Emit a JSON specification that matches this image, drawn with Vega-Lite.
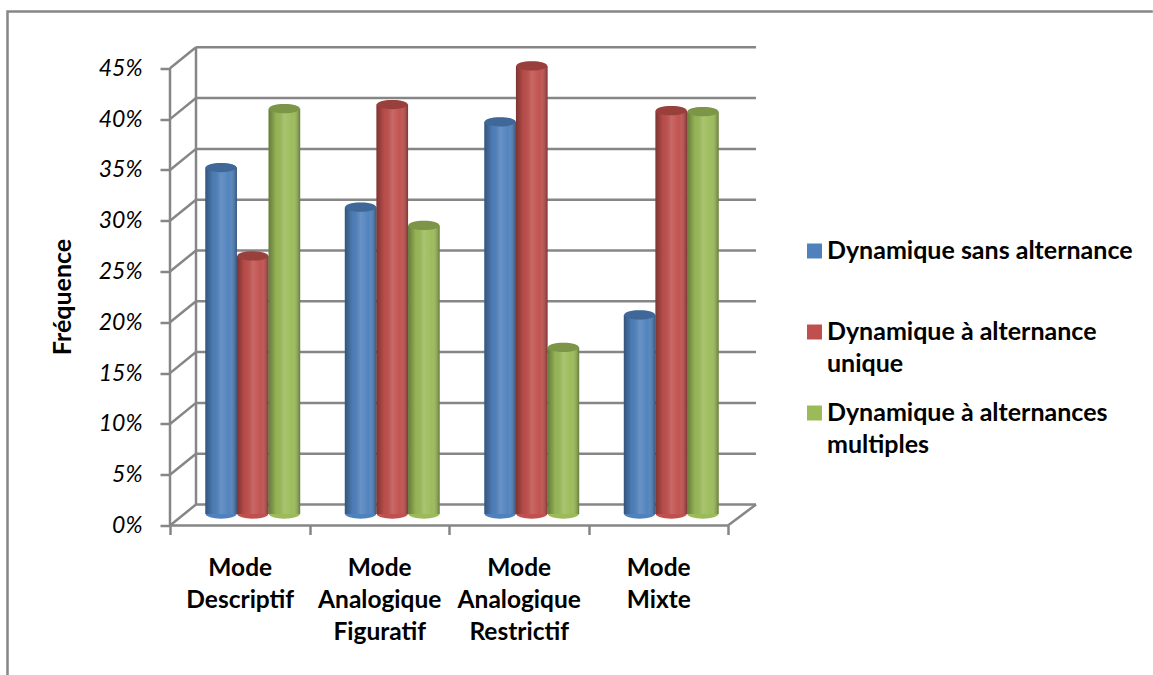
{
"$schema":"https://vega.github.io/schema/vega-lite/v6.json",
"width":558,"height":478,
"autosize":"none",
"padding":{"left":170,"top":47.5,"right":425,"bottom":150},
"background":"white",
"config":{"view":{"stroke":null},"font":"Lato"},
"datasets":{
"bars":[
{"mode":"Mode Descriptif","serie":"Dynamique sans alternance","freq":34.1},
{"mode":"Mode Descriptif","serie":"Dynamique à alternance unique","freq":25.4},
{"mode":"Mode Descriptif","serie":"Dynamique à alternances multiples","freq":39.9},
{"mode":"Mode Analogique Figuratif","serie":"Dynamique sans alternance","freq":30.2},
{"mode":"Mode Analogique Figuratif","serie":"Dynamique à alternance unique","freq":40.3},
{"mode":"Mode Analogique Figuratif","serie":"Dynamique à alternances multiples","freq":28.4},
{"mode":"Mode Analogique Restrictif","serie":"Dynamique sans alternance","freq":38.6},
{"mode":"Mode Analogique Restrictif","serie":"Dynamique à alternance unique","freq":44.1},
{"mode":"Mode Analogique Restrictif","serie":"Dynamique à alternances multiples","freq":16.4},
{"mode":"Mode Mixte","serie":"Dynamique sans alternance","freq":19.6},
{"mode":"Mode Mixte","serie":"Dynamique à alternance unique","freq":39.7},
{"mode":"Mode Mixte","serie":"Dynamique à alternances multiples","freq":39.6}
],
"lines":[
{"p":"axisFront","d":0,"v":0},{"p":"axisFront","d":0,"v":45},
{"p":"axisBack","d":1,"v":2.07},{"p":"axisBack","d":1,"v":47.07},
{"p":"floorFront","d":0,"v":0},{"p":"floorFront","d":21.46,"v":0},
{"p":"floorSide","d":21.46,"v":0},{"p":"floorSide","d":22.54,"v":2.07},
{"p":"d0","d":0,"v":0},{"p":"d0","d":1,"v":2.07},{"p":"g0","d":1,"v":2.07},{"p":"g0","d":22.54,"v":2.07},
{"p":"d5","d":0,"v":5},{"p":"d5","d":1,"v":7.07},{"p":"g5","d":1,"v":7.07},{"p":"g5","d":22.54,"v":7.07},
{"p":"d10","d":0,"v":10},{"p":"d10","d":1,"v":12.07},{"p":"g10","d":1,"v":12.07},{"p":"g10","d":22.54,"v":12.07},
{"p":"d15","d":0,"v":15},{"p":"d15","d":1,"v":17.07},{"p":"g15","d":1,"v":17.07},{"p":"g15","d":22.54,"v":17.07},
{"p":"d20","d":0,"v":20},{"p":"d20","d":1,"v":22.07},{"p":"g20","d":1,"v":22.07},{"p":"g20","d":22.54,"v":22.07},
{"p":"d25","d":0,"v":25},{"p":"d25","d":1,"v":27.07},{"p":"g25","d":1,"v":27.07},{"p":"g25","d":22.54,"v":27.07},
{"p":"d30","d":0,"v":30},{"p":"d30","d":1,"v":32.07},{"p":"g30","d":1,"v":32.07},{"p":"g30","d":22.54,"v":32.07},
{"p":"d35","d":0,"v":35},{"p":"d35","d":1,"v":37.07},{"p":"g35","d":1,"v":37.07},{"p":"g35","d":22.54,"v":37.07},
{"p":"d40","d":0,"v":40},{"p":"d40","d":1,"v":42.07},{"p":"g40","d":1,"v":42.07},{"p":"g40","d":22.54,"v":42.07},
{"p":"d45","d":0,"v":45},{"p":"d45","d":1,"v":47.07},{"p":"g45","d":1,"v":47.07},{"p":"g45","d":22.54,"v":47.07},
{"p":"frame","d":-6.25,"v":-15},{"p":"frame","d":-6.25,"v":50.6},{"p":"frame","d":37.8,"v":50.6}
]
},
"layer":[
{
"data":{"name":"lines"},
"mark":{"type":"line","color":"#868686","strokeWidth":2.5,"clip":false},
"encoding":{
"x":{"field":"d","type":"quantitative","scale":{"domain":[0,1],"range":[0,26],"clamp":false,"nice":false,"zero":false},"axis":null},
"y":{"field":"v","type":"quantitative","scale":{"domain":[0,47.05],"nice":false},
"axis":{"values":[0,5,10,15,20,25,30,35,40,45],"labelExpr":"datum.value + '%'","domain":false,"grid":false,"ticks":true,"tickSize":10,"tickColor":"#868686","tickWidth":2.5,"labelPadding":18,"labelFont":"Lato","labelFontSize":23,"labelFontStyle":"italic","labelColor":"#000","title":"Fréquence","titleFont":"Lato","titleFontSize":25,"titleFontWeight":"bold","titleColor":"#000","titleX":-95,"titleY":249}},
"detail":{"field":"p"},
"order":{"field":"d"}
}
},
{
"data":{"name":"bars"},
"mark":{"type":"rule","opacity":0},
"encoding":{
"x":{"field":"mode","type":"nominal","sort":null,"scale":{"paddingInner":0,"paddingOuter":0},
"axis":{"title":null,"labelAngle":0,"labelExpr":"split(datum.label,' ')","labelFont":"Lato","labelFontSize":24.5,"labelFontWeight":"bold","labelColor":"#000","labelPadding":22,"domain":false,"ticks":true,"tickBand":"extent","tickSize":9,"tickColor":"#868686","tickWidth":2.5,"labelLimit":200,"encoding":{"labels":{"lineHeight":{"value":32}}}}}
}
},
{
"data":{"name":"bars"},
"encoding":{
"x":{"field":"mode","type":"nominal","sort":null,"scale":{"paddingInner":0.32,"paddingOuter":0.16,"range":[13,571]},"axis":null},
"xOffset":{"field":"serie","type":"nominal","sort":null,"scale":{"paddingInner":0,"paddingOuter":0}}
},
"layer":[
{"mark":{"type":"bar","yOffset":-11.5,"y2Offset":-11.5},
"encoding":{
"y":{"field":"freq","type":"quantitative"},
"y2":{"datum":0},
"color":{"field":"serie","type":"nominal","sort":null,"scale":{"domain":["Dynamique sans alternance","Dynamique à alternance unique","Dynamique à alternances multiples"],"range":["#4F81BD","#C0504D","#9BBB59"]},
"legend":{"orient":"none","legendX":632,"legendY":191,"title":null,"symbolType":"square","symbolSize":225,"symbolStrokeWidth":0,"labelFont":"Lato","labelFontSize":25,"labelFontWeight":"bold","labelColor":"#000","labelLimit":400,"labelOffset":0,"rowPadding":23,"encoding":{"labels":{"lineHeight":{"value":32}}},
"labelExpr":"split(replace(replace(replace(datum.label,' unique','|unique'),' multiples','|multiples'),'sans alternance','sans alternance| '),'|')"}}
}},
{"mark":{"type":"bar","yOffset":-11.5,"y2Offset":-11.5,
"fill":{"gradient":"linear","x1":0,"x2":1,"y1":0,"y2":0,"stops":[{"offset":0,"color":"rgba(0,0,0,0.35)"},{"offset":0.25,"color":"rgba(0,0,0,0.04)"},{"offset":0.5,"color":"rgba(255,255,255,0.14)"},{"offset":0.75,"color":"rgba(255,255,255,0.02)"},{"offset":1,"color":"rgba(0,0,0,0.35)"}]}},
"encoding":{
"y":{"field":"freq","type":"quantitative"},
"y2":{"datum":0}
}},
{"mark":{"type":"point","filled":true,"opacity":1,"yOffset":-11.5,"size":961,"shape":"M-1,0A1,0.3,0,1,1,1,0A1,0.3,0,1,1,-1,0Z"},
"encoding":{
"y":{"field":"freq","type":"quantitative"},
"color":{"field":"serie","type":"nominal","sort":null}
}},
{"mark":{"type":"point","filled":true,"opacity":0.2,"color":"#000","yOffset":-11.5,"size":961,"shape":"M-1,0A1,0.3,0,1,1,1,0A1,0.3,0,1,1,-1,0Z"},
"encoding":{
"y":{"field":"freq","type":"quantitative"}
}},
{"mark":{"type":"point","filled":true,"opacity":1,"yOffset":-11.5,"size":961,"shape":"M-1,0A1,0.3,0,1,0,1,0Z"},
"encoding":{
"y":{"datum":0},
"color":{"field":"serie","type":"nominal","sort":null}
}}
],
"resolve":{"scale":{"x":"shared","xOffset":"shared"}}
}
],
"resolve":{"scale":{"x":"independent","y":"shared"},"axis":{"x":"independent","y":"shared"}}
}
